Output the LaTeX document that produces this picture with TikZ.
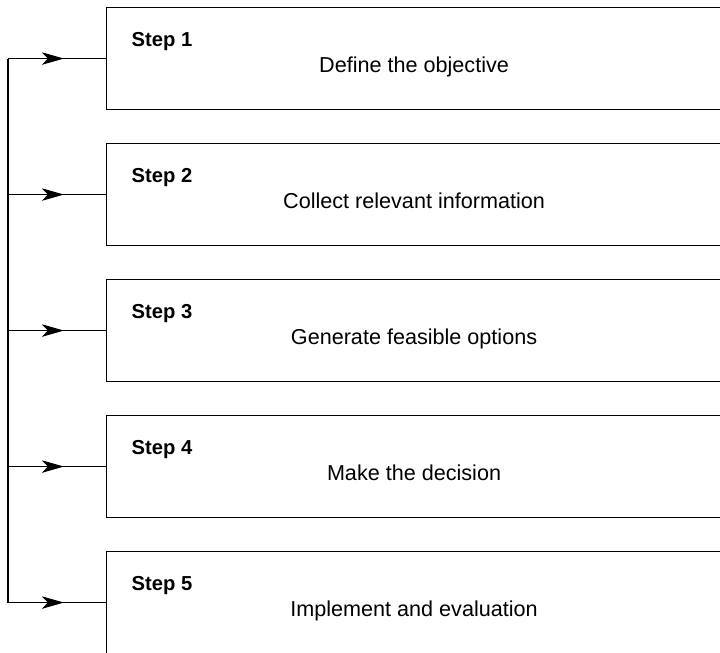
\documentclass[tikz,border=0pt]{standalone}
\usepackage{fontspec}
\setmainfont{Liberation Sans}
\usetikzlibrary{arrows.meta,positioning,decorations.markings}

\tikzset{
    stepbox/.style={rectangle,draw,line width=1.1pt,minimum width=615pt,minimum height=102pt,inner sep=0pt},
    steptag/.style={font=\fontsize{20.2}{24}\selectfont\bfseries,inner sep=0pt,anchor=base west},
    steptext/.style={font=\fontsize{21.6}{26}\selectfont,inner sep=0pt,anchor=base},
    feed/.style={line width=1.1pt,postaction={decorate},
        decoration={markings,mark=at position 0.57 with {\arrow{Stealth[length=22pt,width=12.5pt,inset=6pt]}}}}
}

\begin{document}
\begin{tikzpicture}
        \useasboundingbox (0,0) rectangle (720pt,-653pt);

        % the five step boxes
        \node[stepbox,anchor=north west] (s1) at (106pt,-7pt) {};
        \node[stepbox,below=32.9pt of s1] (s2) {};
        \node[stepbox,below=32.9pt of s2] (s3) {};
        \node[stepbox,below=32.9pt of s3] (s4) {};
        \node[stepbox,below=32.9pt of s4] (s5) {};

        % step names and what they do
        \node[steptag] (n1) at ([shift={(25.5pt,-39pt)}]s1.north west) {Step 1};
        \node[steptext] (d1) at ([yshift=-65pt]s1.north) {Define the objective};
        \node[steptag] (n2) at ([shift={(25.5pt,-39pt)}]s2.north west) {Step 2};
        \node[steptext] (d2) at ([yshift=-65pt]s2.north) {Collect relevant information};
        \node[steptag] (n3) at ([shift={(25.5pt,-39pt)}]s3.north west) {Step 3};
        \node[steptext] (d3) at ([yshift=-65pt]s3.north) {Generate feasible options};
        \node[steptag] (n4) at ([shift={(25.5pt,-39pt)}]s4.north west) {Step 4};
        \node[steptext] (d4) at ([yshift=-65pt]s4.north) {Make the decision};
        \node[steptag] (n5) at ([shift={(25.5pt,-39pt)}]s5.north west) {Step 5};
        \node[steptext] (d5) at ([yshift=-65pt]s5.north) {Implement and evaluation};

        % the feed line on the left
        \coordinate (p1) at (8pt,0 |- s1.west);
        \coordinate (p2) at (8pt,0 |- s2.west);
        \coordinate (p3) at (8pt,0 |- s3.west);
        \coordinate (p4) at (8pt,0 |- s4.west);
        \coordinate (p5) at (8pt,0 |- s5.west);
        \draw[line width=1.1pt] (p1) -- (p5);
        \draw[feed] (p1) -- (s1.west);
        \draw[feed] (p2) -- (s2.west);
        \draw[feed] (p3) -- (s3.west);
        \draw[feed] (p4) -- (s4.west);
        \draw[feed] (p5) -- (s5.west);
    \end{tikzpicture}
\end{document}
